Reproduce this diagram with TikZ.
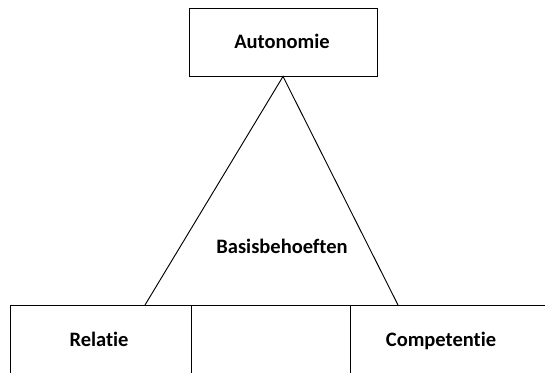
\documentclass[tikz,border=0pt]{standalone}
\usepackage{fontspec}
\setmainfont{Carlito}[Ligatures=NoCommon]
\usetikzlibrary{positioning,calc}
\tikzset{
    kader/.style={draw=black, line width=0.8pt, rectangle, inner sep=0pt},
    label/.style={font=\fontsize{17.5}{20}\selectfont\bfseries, text=black, anchor=base, inner sep=0pt}
}

\begin{document}
\begin{tikzpicture}[x=0.03cm, y=-0.03cm]
    \useasboundingbox (0,0) rectangle (545,372);
    \clip (0,0) rectangle (545,372);
    % bovenste blok
    \node[kader, minimum width=188*0.03cm, minimum height=68*0.03cm] (autonomie) at (283,42) {};
    \node[label] (autonomietekst) at (282,49) {Autonomie};
    % onderste blokken
    \node[kader, minimum width=181*0.03cm, minimum height=68*0.03cm] (relatie) at (100.5,339) {};
    \node[kader, minimum width=159*0.03cm, minimum height=68*0.03cm] (midden) at (270.5,339) {};
    \node[kader, minimum width=200*0.03cm, minimum height=68*0.03cm] (competentie) at (450,339) {};
    \node[label] (relatietekst) at (99,346) {Relatie};
    \node[label] (competentietekst) at (441,346) {Competentie};
    % driehoek
    \coordinate (linksonder) at (145,305);
    \coordinate (rechtsonder) at (398,305);
    \draw[line width=0.8pt] (linksonder) -- (autonomie.south) -- (rechtsonder);
    \node[label] (basis) at (282,253) {Basisbehoeften};
\end{tikzpicture}
\end{document}
